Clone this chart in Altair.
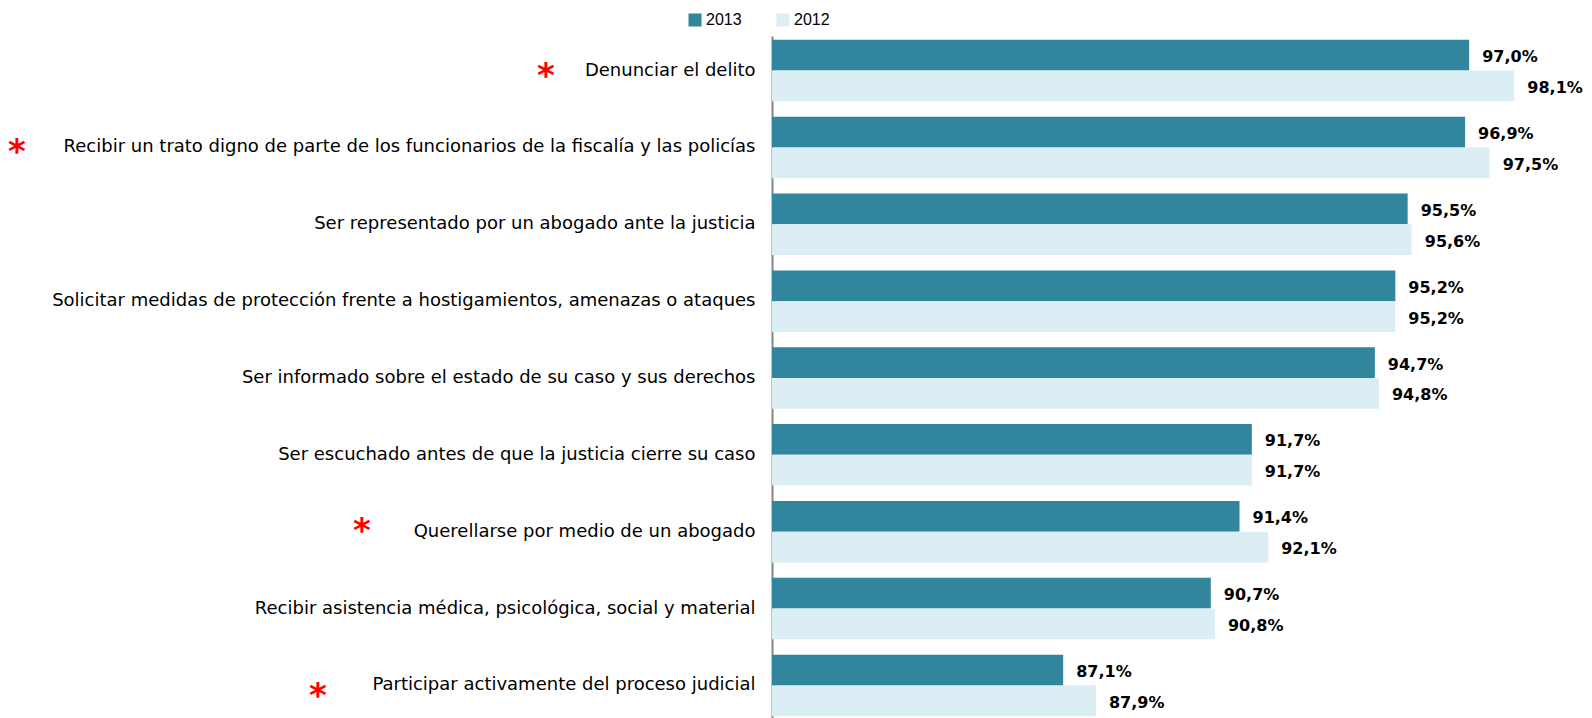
import altair as alt
import pandas as pd

categories = [
    "Denunciar el delito",
    "Recibir un trato digno de parte de los funcionarios de la fiscalía y las policías",
    "Ser representado por un abogado ante la justicia",
    "Solicitar medidas de protección frente a hostigamientos, amenazas o ataques",
    "Ser informado sobre el estado de su caso y sus derechos",
    "Ser escuchado antes de que la justicia cierre su caso",
    "Querellarse por medio de un abogado",
    "Recibir asistencia médica, psicológica, social y material",
    "Participar activamente del proceso judicial",
]
years = ["2013", "2012"]
v2013 = [97.0, 96.9, 95.5, 95.2, 94.7, 91.7, 91.4, 90.7, 87.1]
v2012 = [98.1, 97.5, 95.6, 95.2, 94.8, 91.7, 92.1, 90.8, 87.9]
starred = [True, True, False, False, False, False, True, False, True]

rows = []
for c, a, b in zip(categories, v2013, v2012):
    for y, v in (("2013", a), ("2012", b)):
        rows.append({"category": c, "year": y, "value": v,
                     "label": f"{v:.1f}".replace(".", ",") + "%"})
df = pd.DataFrame(rows)

# style: asterisk placement (pixel offsets from the axis) per starred row
star_style = {
    categories[0]: (-226, 6),
    categories[1]: (-755, 6),
    categories[6]: (-410, 0),
    categories[8]: (-454, 12),
}

yscale = alt.Scale(paddingInner=0.2, paddingOuter=0.05)
ysort = categories

base = alt.Chart(df).encode(
    y=alt.Y("category:N", sort=ysort, scale=yscale,
            axis=alt.Axis(title=None, ticks=False, labelFontSize=18,
                          labelFont="DejaVu Sans", labelColor="#000000",
                          labelPadding=17, domainColor="#868686",
                          domainWidth=2, labelLimit=0)),
    yOffset=alt.YOffset("year:N", sort=years),
    x=alt.X("value:Q", scale=alt.Scale(domain=[80, 99.8], nice=False, zero=False),
            axis=None),
)

bars = base.mark_bar(clip=True).encode(
    color=alt.Color("year:N", sort=years,
                    scale=alt.Scale(domain=years, range=["#31859C", "#DAEEF3"]),
                    legend=alt.Legend(title=None, orient="none", legendX=-85, legendY=-24,
                                      direction="horizontal", symbolType="square",
                                      symbolSize=169, symbolStrokeWidth=0,
                                      labelFontSize=16, labelFont="Liberation Sans",
                                      labelColor="#000000", labelOffset=3,
                                      columnPadding=33, padding=0))
)

labels = base.mark_text(align="left", baseline="middle", dx=13, dy=2,
                        fontSize=16, font="DejaVu Sans", fontWeight="bold",
                        color="#000000").encode(text="label:N")

star_rows = [c for c, s in zip(categories, starred) if s]
stars = []
for c in star_rows:
    px, dy = star_style[c]
    stars.append(
        alt.Chart(pd.DataFrame({"category": [c]})).mark_text(
            text="*", color="#FF0000", fontSize=34, fontWeight="bold",
            font="DejaVu Sans", align="center", baseline="middle", dy=dy
        ).encode(y=alt.Y("category:N", sort=ysort, scale=yscale), x=alt.value(px))
    )

chart = alt.layer(bars, labels, *stars).properties(
    width=812, height=684,
    padding={"left": 764, "top": 28, "right": 0, "bottom": 0},
    autosize=alt.AutoSizeParams(type="none"),
).configure_view(stroke=None)

chart.save("out.html", embed_options={"renderer": "svg", "actions": False})
